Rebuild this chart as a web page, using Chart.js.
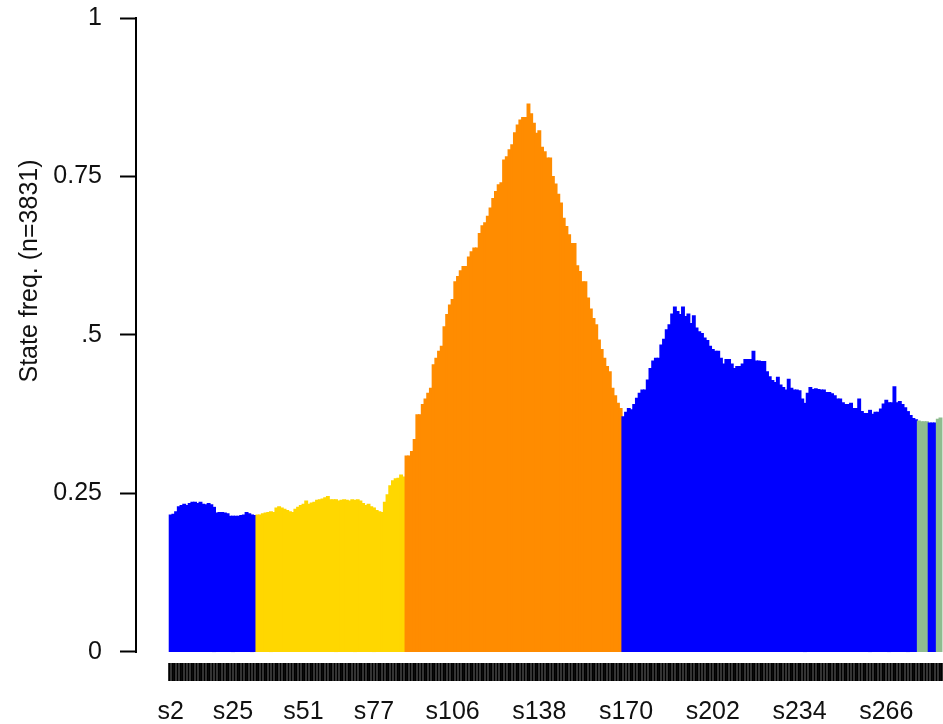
<!DOCTYPE html>
<html>
<head>
<meta charset="utf-8">
<script src="https://cdn.jsdelivr.net/npm/chart.js@4/dist/chart.umd.min.js"></script>
<style>
  html, body { margin: 0; padding: 0; background: #fff; overflow: hidden; }
  canvas { display: block; }
</style>
</head>
<body>
<canvas id="chart" width="943" height="724"></canvas>
<script>
// Modal state frequency at each sequence position (first position is s2)
const FIRST_POSITION = 2;
const MODAL_FREQ = [
  // s2 - s33
  0.216, 0.217, 0.221, 0.229, 0.231, 0.233, 0.231, 0.234, 0.236, 0.236,
  0.234, 0.236, 0.233, 0.232, 0.234, 0.232, 0.228, 0.219, 0.220, 0.220,
  0.219, 0.218, 0.214, 0.214, 0.214, 0.214, 0.215, 0.216, 0.220, 0.218,
  0.216, 0.215,
  // s34 - s88
  0.216, 0.216, 0.218, 0.219, 0.220, 0.221, 0.220, 0.227, 0.229, 0.227,
  0.225, 0.223, 0.221, 0.220, 0.225, 0.228, 0.231, 0.233, 0.238, 0.233,
  0.235, 0.236, 0.239, 0.240, 0.241, 0.243, 0.245, 0.240, 0.240, 0.240,
  0.238, 0.239, 0.240, 0.239, 0.238, 0.240, 0.239, 0.240, 0.238, 0.234,
  0.231, 0.233, 0.229, 0.227, 0.223, 0.221, 0.220, 0.236, 0.248, 0.262,
  0.270, 0.273, 0.274, 0.279, 0.276,
  // s89 - s168
  0.309, 0.309, 0.316, 0.335, 0.374, 0.374, 0.390, 0.399, 0.408, 0.416,
  0.453, 0.463, 0.474, 0.482, 0.513, 0.532, 0.547, 0.556, 0.584, 0.592,
  0.601, 0.608, 0.608, 0.623, 0.631, 0.637, 0.637, 0.660, 0.672, 0.677,
  0.687, 0.700, 0.715, 0.726, 0.737, 0.740, 0.776, 0.781, 0.792, 0.800,
  0.819, 0.831, 0.839, 0.843, 0.843, 0.864, 0.849, 0.834, 0.818, 0.822,
  0.796, 0.789, 0.779, 0.779, 0.750, 0.738, 0.722, 0.708, 0.684, 0.671,
  0.658, 0.644, 0.644, 0.609, 0.600, 0.584, 0.584, 0.558, 0.541, 0.526,
  0.516, 0.492, 0.477, 0.463, 0.450, 0.442, 0.416, 0.404, 0.392, 0.384,
  // s169 - s277
  0.371, 0.378, 0.384, 0.382, 0.390, 0.400, 0.408, 0.413, 0.413, 0.429,
  0.447, 0.459, 0.463, 0.463, 0.484, 0.493, 0.508, 0.516, 0.533, 0.544,
  0.537, 0.532, 0.544, 0.529, 0.533, 0.518, 0.530, 0.511, 0.505, 0.502,
  0.495, 0.491, 0.482, 0.477, 0.474, 0.474, 0.463, 0.454, 0.461, 0.461,
  0.454, 0.447, 0.450, 0.450, 0.454, 0.461, 0.461, 0.461, 0.474, 0.459,
  0.459, 0.458, 0.458, 0.442, 0.434, 0.428, 0.425, 0.433, 0.421, 0.417,
  0.413, 0.430, 0.416, 0.413, 0.413, 0.412, 0.399, 0.392, 0.408, 0.417,
  0.414, 0.415, 0.414, 0.413, 0.413, 0.409, 0.409, 0.407, 0.404, 0.399,
  0.399, 0.393, 0.390, 0.390, 0.392, 0.384, 0.384, 0.399, 0.379, 0.376,
  0.376, 0.381, 0.375, 0.378, 0.378, 0.383, 0.391, 0.397, 0.393, 0.393,
  0.418, 0.393, 0.395, 0.390, 0.385, 0.379, 0.373, 0.368, 0.366,
  // s278 - s286
  0.364, 0.363, 0.363, 0.363,
  0.361, 0.361, 0.361,
  0.367, 0.369
];

// Modal state at each position, as consecutive runs [state, length]
const MODAL_STATE_RUNS = [['A', 32], ['B', 55], ['C', 80], ['A', 109], ['D', 4], ['A', 3], ['D', 2]];
const STATE_COLORS = { A: '#0000FF', B: '#FFD700', C: '#FF8C00', D: '#8FBC8F' };

const POSITIONS = MODAL_FREQ.map((_, i) => 's' + (FIRST_POSITION + i));
const X_TICK_LABELS = ['s2', 's25', 's51', 's77', 's106', 's138', 's170', 's202', 's234', 's266'];
const Y_TICKS = [0, 0.25, 0.5, 0.75, 1];
const Y_TICK_LABELS = ['0', '0.25', '.5', '0.75', '1'];
const Y_TITLE = 'State freq. (n=3831)';

const modalStates = MODAL_STATE_RUNS.flatMap(([s, n]) => Array(n).fill(s));
const barColors = modalStates.map(s => STATE_COLORS[s]);

const FONT_FAMILY = '"Liberation Sans", Arial, Helvetica, sans-serif';
const FONT_SIZE = 25;
const TEXT_COLOR = '#111';

Chart.defaults.font.family = FONT_FAMILY;
Chart.defaults.font.size = FONT_SIZE;
Chart.defaults.color = TEXT_COLOR;

// R-style y axis line running only from the first to the last y tick
const yAxisLine = {
  id: 'yAxisLine',
  afterDraw(chart) {
    const y = chart.scales.y;
    const ctx = chart.ctx;
    ctx.save();
    ctx.strokeStyle = '#000';
    ctx.lineWidth = 2;
    ctx.beginPath();
    ctx.moveTo(y.right - 1, y.getPixelForValue(Y_TICKS[0]) + 1);
    ctx.lineTo(y.right - 1, y.getPixelForValue(Y_TICKS[Y_TICKS.length - 1]) - 1);
    ctx.stroke();
    ctx.restore();
  }
};

// Rotated y axis title
const yTitle = {
  id: 'yTitle',
  afterDraw(chart, args, opts) {
    const ctx = chart.ctx;
    ctx.save();
    ctx.translate(opts.x, opts.y);
    ctx.rotate(-Math.PI / 2);
    ctx.font = FONT_SIZE + 'px ' + FONT_FAMILY;
    ctx.fillStyle = TEXT_COLOR;
    ctx.textAlign = 'center';
    ctx.textBaseline = 'middle';
    ctx.fillText(opts.text, 0, 0);
    ctx.restore();
  }
};

new Chart(document.getElementById('chart'), {
  type: 'bar',
  data: {
    datasets: [{
      data: MODAL_FREQ.map((v, i) => ({ x: i, y: v })),
      backgroundColor: barColors,
      borderWidth: 0,
      inflateAmount: 0.6,
      barPercentage: 1,
      categoryPercentage: 1
    }]
  },
  options: {
    responsive: false,
    animation: false,
    devicePixelRatio: 1,
    layout: { padding: { top: 18, left: 0, right: 0, bottom: 0 } },
    plugins: {
      legend: { display: false },
      tooltip: { enabled: false },
      yTitle: { text: Y_TITLE, x: 30, y: 271 }
    },
    scales: {
      x: {
        type: 'linear',
        min: -11.9,
        max: 284.4,
        border: { display: false },
        grid: {
          display: true,
          drawOnChartArea: false,
          drawTicks: true,
          tickLength: 18,
          tickWidth: 2.6,
          tickColor: '#000'
        },
        afterBuildTicks(scale) {
          scale.ticks = POSITIONS.map((_, i) => ({ value: i }));
        },
        afterFit(scale) {
          scale.height = 61;
          scale.paddingLeft = 0;
          scale.paddingRight = 0;
        },
        ticks: {
          autoSkip: false,
          maxRotation: 0,
          minRotation: 0,
          padding: 16,
          callback(value) {
            const name = POSITIONS[value];
            return X_TICK_LABELS.includes(name) ? name : '';
          }
        }
      },
      y: {
        min: -0.0174,
        max: 1,
        border: { display: false },
        grid: {
          display: true,
          drawOnChartArea: false,
          drawTicks: true,
          tickLength: 17,
          tickWidth: 2,
          tickColor: '#000'
        },
        afterBuildTicks(scale) {
          scale.ticks = Y_TICKS.map(v => ({ value: v }));
        },
        afterFit(scale) {
          scale.width = 137;
          scale.paddingTop = 0;
          scale.paddingBottom = 0;
        },
        ticks: {
          padding: 18,
          callback(value) {
            const k = Y_TICKS.indexOf(value);
            return k >= 0 ? Y_TICK_LABELS[k] : '';
          }
        }
      }
    }
  },
  plugins: [yAxisLine, yTitle]
});
</script>
</body>
</html>
